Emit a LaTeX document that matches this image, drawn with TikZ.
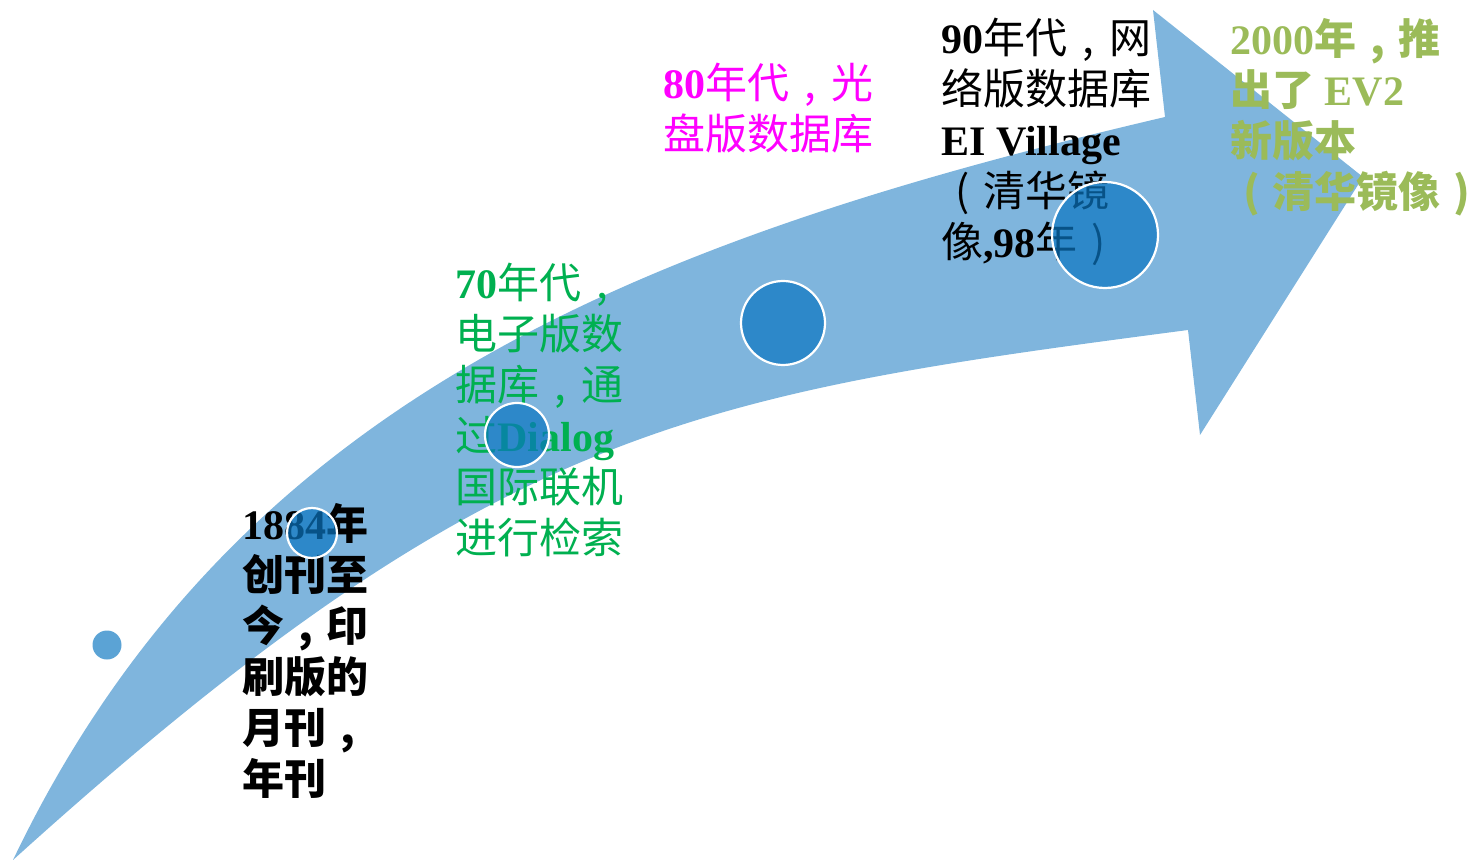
\documentclass[tikz,border=0pt]{standalone}
\usepackage{fontspec}
\setmainfont{Liberation Serif}
\newfontfamily\cjk{Noto Sans CJK SC}
\newcommand\zh[1]{{\cjk #1}}
\newcommand\zhb[1]{{\cjk\bfseries #1}}
\newcommand\fc{\makebox[1em][c]{,}}
\newcommand\lp{\makebox[1em][c]{(}}
\newcommand\rp{\makebox[1em][c]{)}}
\definecolor{arrowblue}{HTML}{7FB5DD}
\definecolor{dotblue}{HTML}{0B76C1}
\definecolor{smallblue}{HTML}{5BA3D5}
\definecolor{tgreen}{HTML}{00B050}
\definecolor{tmag}{HTML}{FF00FF}
\definecolor{tolive}{HTML}{9BBB59}
\tikzset{
  label/.style={anchor=north west, inner sep=0pt, align=left, font=\fontsize{21}{25.5}\selectfont},
  dot/.style={circle, fill=dotblue, fill opacity=0.7, draw=white, draw opacity=1, line width=1.1pt, inner sep=0pt}
}
\begin{document}
\begin{tikzpicture}[x=0.5pt, y=-0.5pt]
\useasboundingbox (0,0) rectangle (1476,860);
% curved arrow
\fill[arrowblue] (13,860) .. controls (233,400) and (640,240) .. (1165,117)
  -- (1153,10) -- (1363,177) -- (1200,435) -- (1188,330)
  .. controls (693,395) and (494,425) .. (13,860) -- cycle;
% texts
\node[label] (t1) at (242,503) {{\bfseries 1884}\zhb{年}\\ \zhb{创刊至}\\ \zhb{今\fc 印}\\ \zhb{刷版的}\\ \zhb{月刊\fc}\\ \zhb{年刊}};
\node[label, text=tgreen] (t2) at (455,263) {{\bfseries 70}\zh{年代\fc}\\ \zh{电子版数}\\ \zh{据库\fc 通}\\ \zh{过}{\bfseries Dialog}\\ \zh{国际联机}\\ \zh{进行检索}};
\node[label, text=tmag] (t3) at (663,63) {{\bfseries 80}\zh{年代\fc 光}\\ \zh{盘版数据库}};
\node[label] (t4) at (941,18) {{\bfseries 90}\zh{年代\fc 网}\\ \zh{络版数据库}\\ {\bfseries EI Village}\\ \zh{\lp 清华镜}\\ \zh{像}{\bfseries ,98}\zh{年\rp}};
\node[label, text=tolive] (t5) at (1230,18) {{\bfseries 2000}\zhb{年\fc 推}\\ \zhb{出了} {\bfseries EV2}\\ \zhb{新版本}\\ \zhb{\lp 清华镜像\rp}};
% dots
\node[circle, fill=smallblue, inner sep=0pt, minimum size=14.5pt] (c0) at (107,645) {};
\node[dot, minimum size=25pt] (c1) at (312,533) {};
\node[dot, minimum size=32pt] (c2) at (517,435) {};
\node[dot, minimum size=42pt] (c3) at (783,323) {};
\node[dot, minimum size=53pt] (c4) at (1105,235) {};
\end{tikzpicture}
\end{document}
